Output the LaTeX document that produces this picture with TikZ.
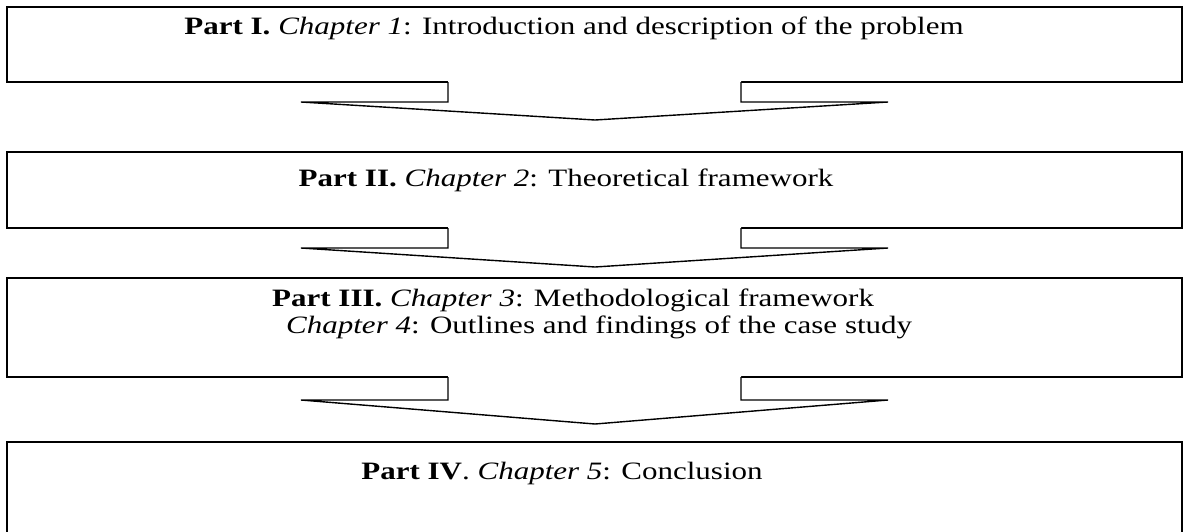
\documentclass[tikz,border=0pt]{standalone}
\usepackage{fontspec}
\setmainfont{Liberation Serif}[FakeStretch=1.24]
\usetikzlibrary{calc}
\newcommand{\mydownarrow}[3]{%
  \fill[white] ([yshift=1.5pt]#1.south) ++(-146.5,0) -- ++(0,#2) -- ++(-147,0) -- ++(294,#3) -- ++(293,-#3) -- ++(-147,0) -- ++(0,-#2) -- cycle;
  \draw[blockarrow] (#1.south) ++(-146.5,0) -- ++(0,#2) -- ++(-147,0) -- ++(294,#3) -- ++(293,-#3) -- ++(-147,0) -- ++(0,-#2);
}
\begin{document}
\begin{tikzpicture}[x=1pt,y=-1pt,
  partbox/.style={draw=black, line width=1.8pt, fill=white, outer sep=0pt, inner sep=0pt, minimum width=1175pt, anchor=north west},
  blockarrow/.style={draw=black, line width=1.4pt, line join=miter},
  parttext/.style={inner sep=0pt, font=\fontsize{25}{27}\selectfont}]
\useasboundingbox (0,0) rectangle (1185,531);
\clip (0,0) rectangle (1185,531);
\node[partbox, minimum height=75pt] (b1) at (7,7) {};
\node[partbox, minimum height=76pt] (b2) at (7,152) {};
\node[partbox, minimum height=99pt] (b3) at (7,278) {};
\node[partbox, minimum height=140pt] (b4) at (7,442) {};
\mydownarrow{b1}{20}{18}
\mydownarrow{b2}{20}{19}
\mydownarrow{b3}{23}{24}
\node[parttext, anchor=base] (t1) at (574,34) {\textbf{Part I.} \textit{Chapter 1}: Introduction and description of the problem};
\node[parttext, anchor=base] (t2) at (566,186) {\textbf{Part II.} \textit{Chapter 2}: Theoretical framework};
\node[parttext, anchor=base west] (t3a) at (272,306) {\textbf{Part III.} \textit{Chapter 3}: Methodological framework};
\node[parttext, anchor=base west] (t3b) at (286,333) {\textit{Chapter 4}: Outlines and findings of the case study};
\node[parttext, anchor=base] (t4) at (562,479) {\textbf{Part IV}. \textit{Chapter 5}: Conclusion};
\end{tikzpicture}
\end{document}
